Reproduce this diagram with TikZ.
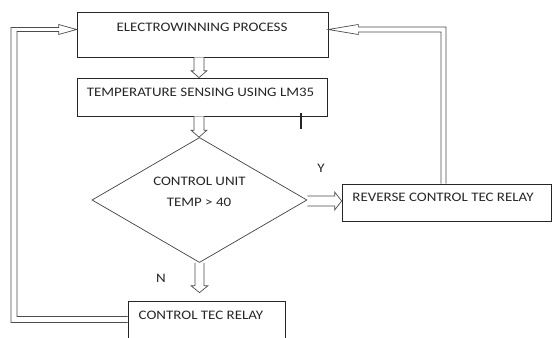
\documentclass[tikz,border=0pt]{standalone}
\usepackage{fontspec}
\setmainfont{Carlito}[FakeStretch=1.15]
\usetikzlibrary{shapes.geometric,calc}
\newcommand\myhdown[4]{\draw[harrow] let \p1=#1, \p2=#2 in
  (\x1-#3pt,\y1) -- (\x1-#3pt,\y2+7pt) -- (\x1-#4pt,\y2+7pt) -- (\x1,\y2)
  -- (\x1+#4pt,\y2+7pt) -- (\x1+#3pt,\y2+7pt) -- (\x1+#3pt,\y1);}
\newcommand\myhright[5]{\draw[harrow] let \p1=#1, \p2=#2 in
  (\x1,\y1+#3pt) -- (\x2-#5pt,\y1+#3pt) -- (\x2-#5pt,\y1+#4pt) -- (\x2,\y1)
  -- (\x2-#5pt,\y1-#4pt) -- (\x2-#5pt,\y1-#3pt) -- (\x1,\y1-#3pt);}
\begin{document}
\begin{tikzpicture}[x=1pt,y=-1pt,
  box/.style={draw=black!85, line width=0.7pt, inner sep=0pt},
  txt/.style={anchor=base, inner sep=0pt, text=black!85, font=\fontsize{13}{15}\selectfont},
  harrow/.style={draw=black!70, line width=0.7pt, fill=white, line join=miter}]
\useasboundingbox (0,0) rectangle (553,337);
\clip (0,0) rectangle (553,337);
% boxes
\node[box, minimum width=251pt, minimum height=45pt] (ew) at (202.5,34.5) {};
\node[box, minimum width=250pt, minimum height=38pt] (ts) at (202,97) {};
\node[box, draw=black!75, shape=diamond, minimum width=215pt, minimum height=125pt] (dia) at (199.5,200) {};
\node[box, minimum width=209pt, minimum height=37pt] (rev) at (446.5,202.5) {};
\node[box, minimum width=157pt, minimum height=44pt] (ctr) at (206.5,323) {};
% texts
\node[txt] (ewt) at (202,31) {ELECTROWINNING PROCESS};
\node[txt] (tst) at (200.5,96) {TEMPERATURE SENSING USING LM35};
\node[txt] (diat1) at (199.5,185) {CONTROL UNIT};
\node[txt] (diat2) at (199,206) {TEMP > 40};
\node[txt] (revt) at (443,201) {REVERSE CONTROL TEC RELAY};
\node[txt] (ctrt) at (201,319) {CONTROL TEC RELAY};
\node[txt] (ylab) at (321,172) {Y};
\node[txt] (nlab) at (161,282) {N};
\draw[line width=1.6pt, black!85] (301,113) -- (301,129);
% arrows
\myhdown{($(ew.south)+(-3.5,0)$)}{(ts.north)}{5}{8}
\myhdown{($(ts.south)+(-3,0)$)}{(dia.north)}{5}{8}
\myhdown{(dia.south)}{($(ctr.north)+(0,-8)$)}{4.5}{8.5}
\myhright{($(dia.east)+(0,1)$)}{(rev.west)}{5}{9}{7}
% feedback right
\coordinate (lx) at (14,0);
\draw[harrow] let \p1=($(rev.north)+(-3,0)$), \p2=($(ew.east)+(0,-5)$) in
  (\x1-2.5pt,\y1) -- (\x1-2.5pt,\y2-2.5pt) -- (\x2+30pt,\y2-2.5pt) -- (\x2+30pt,\y2-5pt)
  -- (\x2,\y2) -- (\x2+30pt,\y2+5pt) -- (\x2+30pt,\y2+2.5pt) -- (\x1+2.5pt,\y2+2.5pt)
  -- (\x1+2.5pt,\y1);
% feedback left
\draw[harrow] let \p1=($(ctr.west)+(0,-3.5)$), \p2=($(ew.west)+(0,-5)$), \p3=(lx) in
  (\x1,\y1+3pt) -- (\x3+3pt,\y1+3pt) -- (\x3+3pt,\y2-2pt) -- (\x2-18pt,\y2-2pt)
  -- (\x2-18pt,\y2-5pt) -- (\x2,\y2) -- (\x2-18pt,\y2+5pt) -- (\x2-18pt,\y2+2pt)
  -- (\x3-3pt,\y2+2pt) -- (\x3-3pt,\y1-3pt) -- (\x1,\y1-3pt);
\end{tikzpicture}
\end{document}
